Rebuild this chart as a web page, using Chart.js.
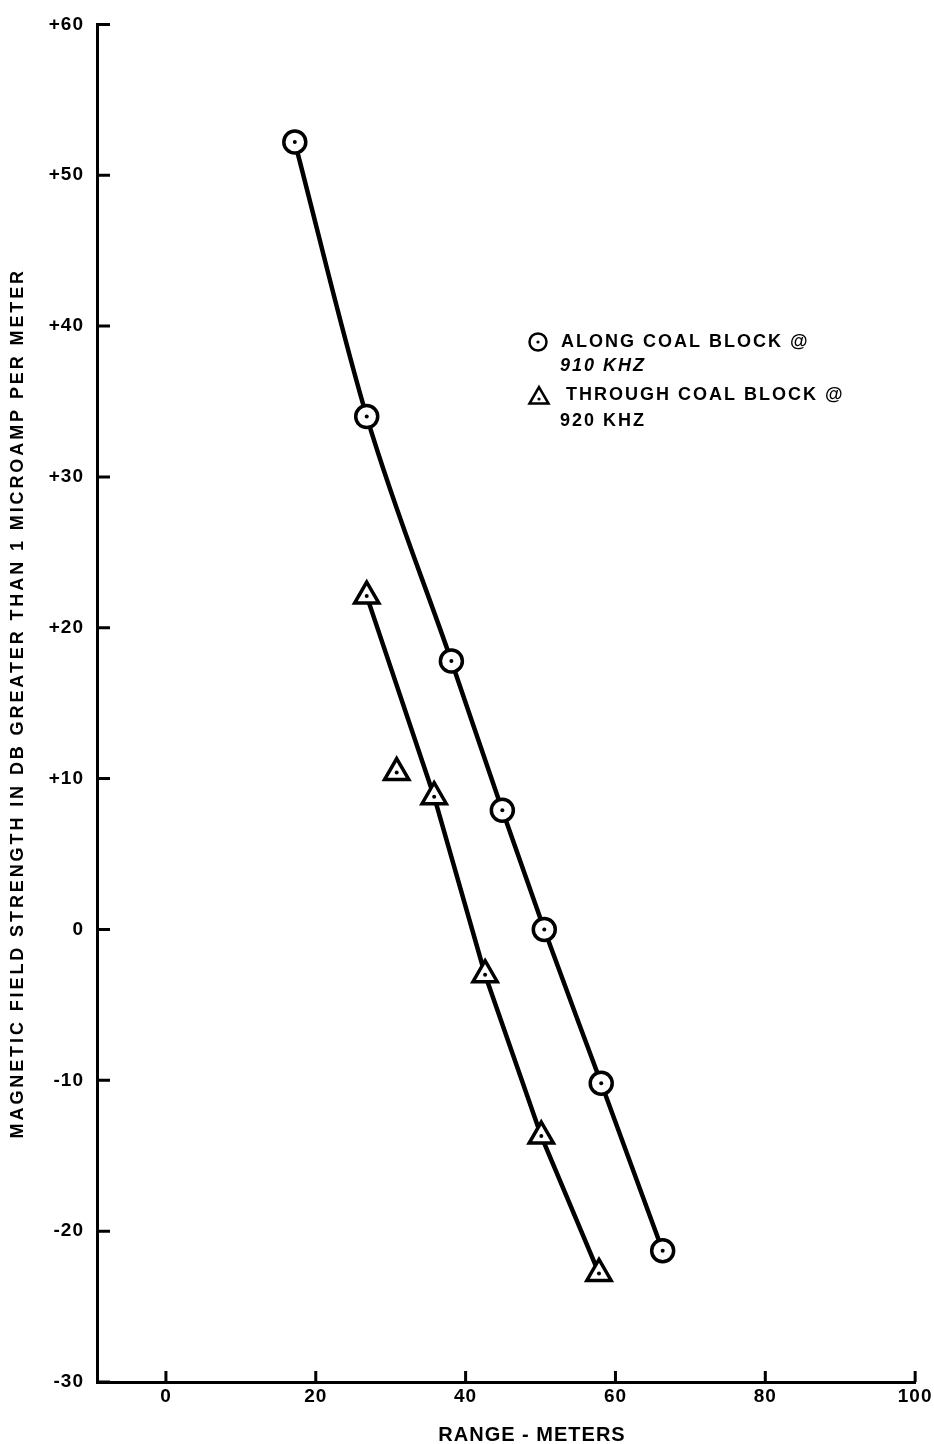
<!DOCTYPE html>
<html>
<head>
<meta charset="utf-8">
<script src="https://cdn.jsdelivr.net/npm/chart.js@4.4.0/dist/chart.umd.min.js"></script>
<style>
html, body { margin: 0; padding: 0; background: #fff; }
#wrap { width: 934px; height: 1444px; }
</style>
</head>
<body>
<div id="wrap"><canvas id="chart" width="934" height="1444"></canvas></div>
<script>
// values
const xTicks = [0, 20, 40, 60, 80, 100];
const yTicks = [60, 50, 40, 30, 20, 10, 0, -10, -20, -30];
const alongX = [17.2, 26.8, 38.1, 44.9, 50.5, 58.1, 66.3];
const alongY = [52.2, 34.0, 17.8, 7.9, 0, -10.2, -21.3];
const throughX = [26.8, 35.8, 42.6, 50.1, 57.8];
const throughY = [22.1, 8.8, -3.0, -13.7, -22.8];
const strayX = [30.8];
const strayY = [10.4];
const legendLines = [['ALONG COAL BLOCK @', '910 KHZ'], ['THROUGH COAL BLOCK @', '920 KHZ']];
const xTitle = 'RANGE - METERS';
const yTitle = 'MAGNETIC FIELD STRENGTH IN DB GREATER THAN 1 MICROAMP PER METER';

const FONT = '"Liberation Sans", Arial, sans-serif';
const pts = (xs, ys) => xs.map((x, i) => ({x: x, y: ys[i]}));

function circleMark(ctx, x, y, r, w) {
  ctx.beginPath(); ctx.arc(x, y, r, 0, Math.PI * 2);
  ctx.fillStyle = '#fff'; ctx.fill();
  ctx.lineWidth = w; ctx.strokeStyle = '#000'; ctx.stroke();
}
function triMark(ctx, x, y, r, w) {
  ctx.beginPath();
  for (let k = 0; k < 3; k++) {
    const a = k * 2 * Math.PI / 3;
    const px = x + Math.sin(a) * r, py = y - Math.cos(a) * r;
    k ? ctx.lineTo(px, py) : ctx.moveTo(px, py);
  }
  ctx.closePath();
  ctx.fillStyle = '#fff'; ctx.fill();
  ctx.lineWidth = w; ctx.lineJoin = 'miter'; ctx.strokeStyle = '#000'; ctx.stroke();
}
function dot(ctx, x, y, r) {
  ctx.fillStyle = '#000'; ctx.beginPath(); ctx.arc(x, y, r, 0, Math.PI * 2); ctx.fill();
}

const extras = {
  id: 'extras',
  beforeDraw(chart) { chart.ctx.letterSpacing = '1px'; },
  beforeDatasetsDraw(chart) {
    // tick marks point into the plot
    const {ctx, chartArea: a, scales: {x, y}} = chart;
    ctx.save();
    ctx.strokeStyle = '#000'; ctx.lineWidth = 3;
    ctx.beginPath();
    x.ticks.forEach(t => { const px = x.getPixelForValue(t.value); ctx.moveTo(px, a.bottom); ctx.lineTo(px, a.bottom - 11); });
    y.ticks.forEach(t => { const py = y.getPixelForValue(t.value); ctx.moveTo(a.left, py); ctx.lineTo(a.left + 13, py); });
    ctx.stroke();
    ctx.restore();
  },
  afterDatasetsDraw(chart) {
    // little dot in the middle of every marker
    const ctx = chart.ctx;
    ctx.save();
    chart.data.datasets.forEach((ds, i) => {
      chart.getDatasetMeta(i).data.forEach(el => dot(ctx, el.x, el.y, 2));
    });
    ctx.restore();
  },
  afterDraw(chart) {
    const {ctx, chartArea: a} = chart;
    ctx.save();
    ctx.textBaseline = 'middle';
    // legend
    circleMark(ctx, 538, 342, 8.5, 2.5);
    dot(ctx, 538, 342, 1.6);
    triMark(ctx, 539, 398, 11, 2.5);
    dot(ctx, 539, 399, 1.6);
    ctx.fillStyle = '#000';
    ctx.letterSpacing = '2px';
    ctx.textAlign = 'left';
    ctx.font = 'bold 18px ' + FONT;
    ctx.fillText(legendLines[0][0], 561, 342);
    ctx.font = 'italic bold 18px ' + FONT;
    ctx.fillText(legendLines[0][1], 560, 366);
    ctx.font = 'bold 18px ' + FONT;
    ctx.fillText(legendLines[1][0], 566, 395);
    ctx.fillText(legendLines[1][1], 560, 421);
    // axis titles
    ctx.textAlign = 'center';
    ctx.letterSpacing = '1px';
    ctx.font = 'bold 20px ' + FONT;
    ctx.fillText(xTitle, 532, 1435);
    ctx.translate(18, (a.top + a.bottom) / 2);
    ctx.rotate(-Math.PI / 2);
    ctx.letterSpacing = '2.9px';
    ctx.font = 'bold 18px ' + FONT;
    ctx.fillText(yTitle, 0, 0);
    ctx.restore();
  }
};

new Chart(document.getElementById('chart'), {
  type: 'scatter',
  data: {
    datasets: [
      {
        data: pts(alongX, alongY), showLine: true, cubicInterpolationMode: 'monotone',
        borderColor: '#000', borderWidth: 4.5,
        pointStyle: 'circle', pointRadius: 11, pointBorderWidth: 3.5,
        pointBackgroundColor: '#fff', pointBorderColor: '#000'
      },
      {
        data: pts(throughX, throughY), showLine: true,
        borderColor: '#000', borderWidth: 4.5,
        pointStyle: 'triangle', pointRadius: 14, pointBorderWidth: 3.5,
        pointBackgroundColor: '#fff', pointBorderColor: '#000'
      },
      {
        data: pts(strayX, strayY), showLine: false,
        pointStyle: 'triangle', pointRadius: 14, pointBorderWidth: 3.5,
        pointBackgroundColor: '#fff', pointBorderColor: '#000'
      }
    ]
  },
  options: {
    responsive: false,
    animation: false,
    layout: { padding: { top: 22, right: 17, left: 0, bottom: 0 } },
    plugins: { legend: { display: false }, tooltip: { enabled: false } },
    scales: {
      x: {
        type: 'linear', min: -9.2, max: 100,
        afterBuildTicks: s => { s.ticks = xTicks.map(v => ({value: v})); },
        afterFit: s => { s.height = 62; },
        grid: { display: false, drawTicks: false },
        border: { display: true, color: '#000', width: 3 },
        ticks: { color: '#000', padding: 3, maxRotation: 0, autoSkip: false, font: { family: FONT, size: 19, weight: 'bold' } }
      },
      y: {
        type: 'linear', min: -30, max: 60,
        afterBuildTicks: s => { s.ticks = yTicks.map(v => ({value: v})); },
        afterFit: s => { s.width = 97; },
        grid: { display: false, drawTicks: false },
        border: { display: true, color: '#000', width: 3 },
        ticks: {
          color: '#000', padding: 13, autoSkip: false,
          font: { family: FONT, size: 19, weight: 'bold' },
          callback: v => (v > 0 ? '+' + v : String(v))
        }
      }
    }
  },
  plugins: [extras]
});
</script>
</body>
</html>
